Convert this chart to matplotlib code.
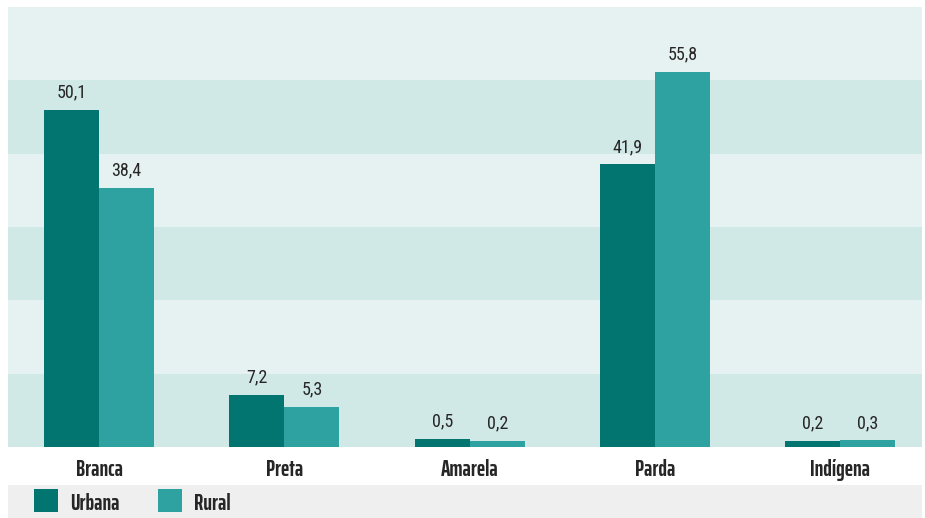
import matplotlib
matplotlib.use("Agg")
import matplotlib.pyplot as plt
import numpy as np
from matplotlib.patches import Rectangle

categories = ["Branca", "Preta", "Amarela", "Parda", "Indígena"]
urbana = [50.1, 7.2, 0.5, 41.9, 0.2]
rural = [38.4, 5.3, 0.2, 55.8, 0.3]
series_names = ["Urbana", "Rural"]

LABEL_FONT = ["Saira ExtraCondensed", "Fjalla One", "DejaVu Sans"]
VALUE_FONT = ["Roboto Condensed", "Archivo Narrow", "DejaVu Sans"]
plt.rcParams["font.family"] = VALUE_FONT

c_urb = "#037570"
c_rur = "#2DA2A0"
band_light = "#E6F2F2"
band_dark = "#D1E9E6"
txt = "#262626"

W, H = 925, 518
fig = plt.figure(figsize=(W / 100, H / 100), dpi=100)
ax = fig.add_axes([8 / W, (H - 447) / H, 914 / W, 440 / H])

base = -0.7
ymax = 65.6
nb = 6
for i in range(nb):
    y0 = base + (ymax - base) * i / nb
    col = band_dark if i % 2 == 0 else band_light
    ax.axhspan(y0, y0 + (ymax - base) / nb, color=col, lw=0, zorder=0)

x = np.arange(len(categories))
bw = 0.297
b1 = ax.bar(x - bw / 2, np.array(urbana) - base, bw, bottom=base, color=c_urb, zorder=2, linewidth=0)
b2 = ax.bar(x + bw / 2, np.array(rural) - base, bw, bottom=base, color=c_rur, zorder=2, linewidth=0)

for bars, vals in ((b1, urbana), (b2, rural)):
    for rect, v in zip(bars, vals):
        ax.annotate(f"{v:.1f}".replace(".", ","),
                    (rect.get_x() + rect.get_width() / 2, v),
                    xytext=(0, 6), textcoords="offset points",
                    ha="center", va="bottom", fontsize=13, color=txt)

ax.set_xlim(-0.491, 4.44)
ax.set_ylim(base, ymax)
ax.set_yticks([])
ax.set_xticks(x)
ax.set_xticklabels([])
ax.tick_params(axis="x", length=0)
for s in ax.spines.values():
    s.set_visible(False)

trans = ax.get_xaxis_transform()
for xi, cat in zip(x, categories):
    ax.annotate(cat, (xi, 0), xycoords=trans, xytext=(0, -29 * 0.72),
                textcoords="offset points", ha="center", va="baseline",
                fontsize=16, fontweight="bold", family=LABEL_FONT, color=txt,
                annotation_clip=False)

# legend band
fig.patches.append(Rectangle((8 / W, 0), 914 / W, (518 - 485) / H,
                             transform=fig.transFigure, color="#EFEFEF", lw=0, zorder=0))
for name, col, xs, xt in ((series_names[0], c_urb, 34, 70), (series_names[1], c_rur, 158, 194)):
    fig.patches.append(Rectangle((xs / W, (H - 512) / H), 24 / W, 23 / H,
                                 transform=fig.transFigure, color=col, lw=0, zorder=1))
    fig.text(xt / W, (H - 510) / H, name, fontsize=16, fontweight="bold", family=LABEL_FONT,
             color=txt, ha="left", va="baseline")

fig.savefig("out.png", dpi=100, facecolor="white")
